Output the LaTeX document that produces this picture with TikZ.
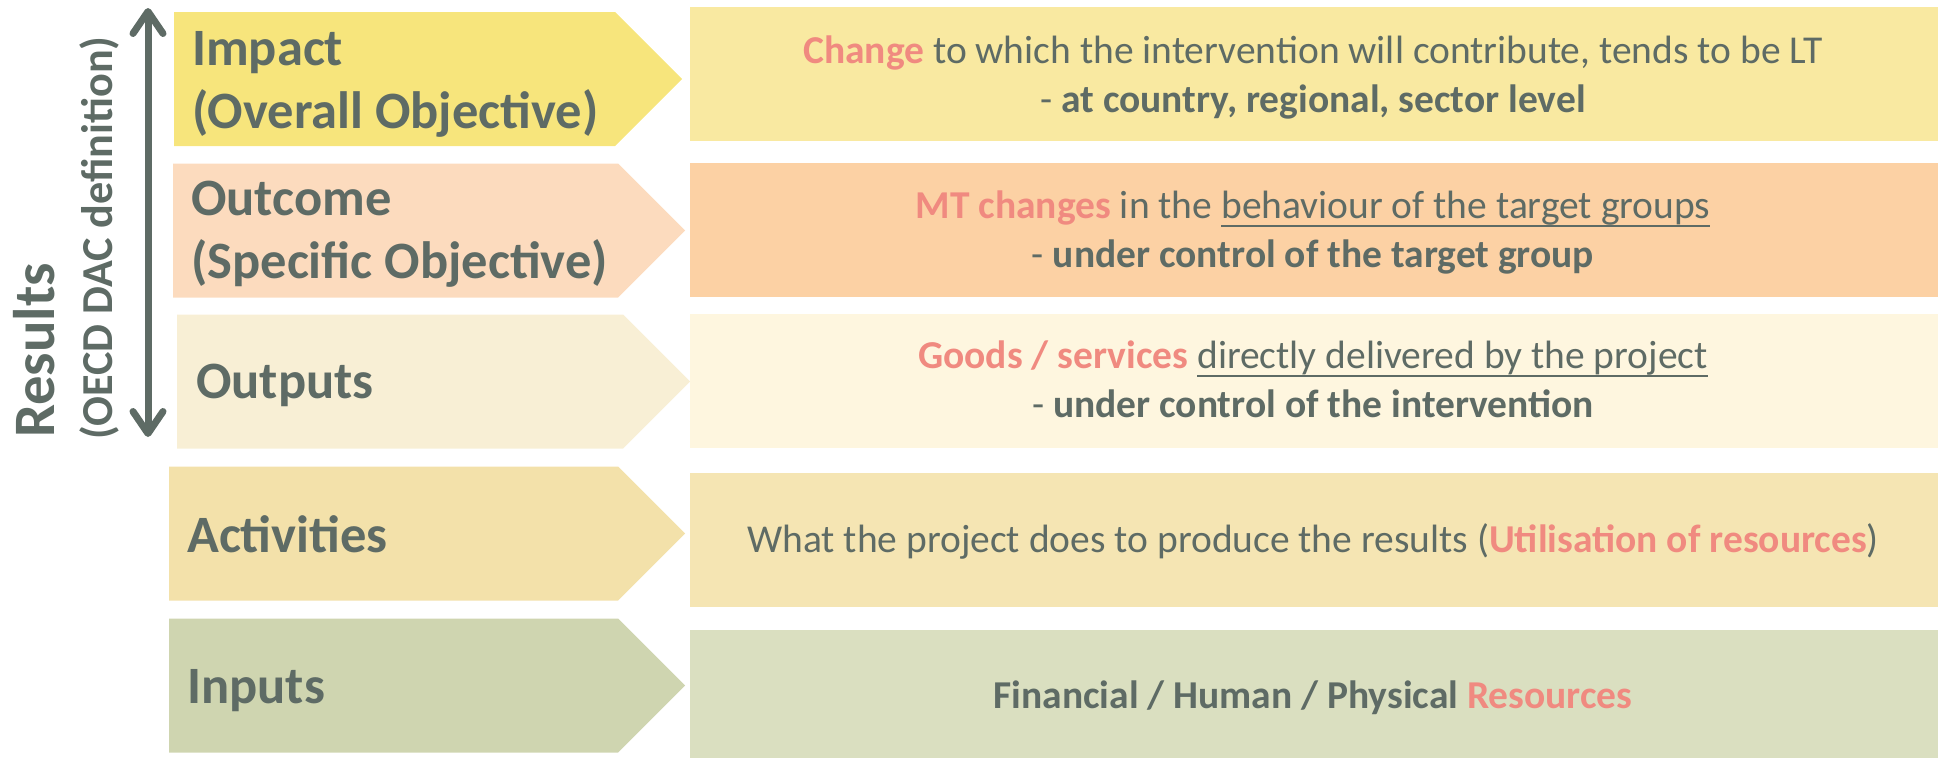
\documentclass[tikz,border=0pt]{standalone}
\usepackage{fontspec}
\setmainfont{Carlito}
\usetikzlibrary{shapes.symbols,arrows.meta,positioning}

\definecolor{textc}{HTML}{5E6B65}
\definecolor{hilite}{HTML}{F08A80}
\definecolor{impactc}{HTML}{F7E57C}
\definecolor{impactd}{HTML}{F9E9A1}
\definecolor{outcomec}{HTML}{FCDBBE}
\definecolor{outcomed}{HTML}{FCD1A4}
\definecolor{outputc}{HTML}{F8EFD5}
\definecolor{outputd}{HTML}{FEF6DF}
\definecolor{activc}{HTML}{F3E1AA}
\definecolor{activd}{HTML}{F5E5B3}
\definecolor{inputc}{HTML}{CFD5B0}
\definecolor{inputd}{HTML}{DADFC0}

\newcommand{\redword}[1]{\textcolor{hilite}{\textbf{#1}}}
\newcommand{\ulword}[1]{\setbox0=\hbox{#1}\rlap{\rule[-8.5pt]{\wd0}{2.5pt}}\box0}

\tikzset{
  rowarrow/.style={signal, signal to=east, signal pointer angle=90,
    inner sep=0pt, anchor=west, minimum height=134pt},
  descbox/.style={rectangle, inner sep=0pt, anchor=north west,
    minimum width=1248pt, minimum height=134pt},
  rowlabel/.style={anchor=base west, inner sep=0pt, align=left, text=textc,
    font=\fontsize{52.5}{63}\selectfont\bfseries},
  desctext/.style={anchor=base, inner sep=0pt, align=center, text=textc,
    font=\fontsize{39.5}{48.5}\selectfont},
  sidetext/.style={rotate=90, anchor=base west, inner sep=0pt, text=textc}
}

\begin{document}
\begin{tikzpicture}[x=1pt, y=-1pt]
    \useasboundingbox (0,0) rectangle (1942,758);

    % arrows on the left
    \node[rowarrow, fill=impactc, minimum width=508pt] (impact) at (174,79) {};
    \node[rowarrow, fill=outcomec, minimum width=512pt] (outcome) at (173,230.5) {};
    \node[rowarrow, fill=outputc, minimum width=513pt] (output) at (177,381.5) {};
    \node[rowarrow, fill=activc, minimum width=516pt] (activ) at (169,533.5) {};
    \node[rowarrow, fill=inputc, minimum width=516pt] (input) at (169,685.5) {};

    % boxes on the right
    \node[descbox, fill=impactd] (impactd) at (690,7) {};
    \node[descbox, fill=outcomed] (outcomed) at (690,163) {};
    \node[descbox, fill=outputd] (outputd) at (690,314) {};
    \node[descbox, fill=activd] (activd) at (690,473) {};
    \node[descbox, fill=inputd, minimum height=128pt] (inputd) at (690,630) {};

    % labels (base = last line)
    \node[rowlabel] (impactl) at (192,128) {Impact\\(Overall Objective)};
    \node[rowlabel] (outcomel) at (191,278) {Outcome\\(Specific Objective)};
    \node[rowlabel] (outputl) at (196,398) {Outputs};
    \node[rowlabel] (activl) at (187,552) {Activities};
    \node[rowlabel] (inputl) at (187,703) {Inputs};

    \node[desctext] (impactt) at (1313,112) {\redword{Change} to which the intervention will contribute, tends to be LT\\- \textbf{at country, regional, sector level}};
    \node[desctext] (outcomet) at (1313,267) {\redword{MT changes} in the \ulword{behaviour of the target groups}\\- \textbf{under control of the target group}};
    \node[desctext] (outputt) at (1313,417) {\redword{Goods / services} \ulword{directly delivered by the project}\\- \textbf{under control of the intervention}};
    \node[desctext] (activt) at (1313,552) {What the project does to produce the results (\redword{Utilisation of resources})};
    \node[desctext] (inputt) at (1313,708) {\textbf{Financial / Human / Physical} \redword{Resources}};

    % results axis
    \node[sidetext, font=\fontsize{58.7}{60}\selectfont\bfseries] (results) at (54,438) {Results};
    \node[sidetext, font=\fontsize{44.2}{45}\selectfont\bfseries] (oecd) at (112,440) {(OECD DAC definition)};
    \coordinate (restop) at (148,8);
    \coordinate (resbot) at (148,437);
    \draw[textc, line width=7pt, {Straight Barb[round,length=22pt,width=30pt]}-{Straight Barb[round,length=22pt,width=30pt]}] (resbot) -- (restop);
\end{tikzpicture}
\end{document}
